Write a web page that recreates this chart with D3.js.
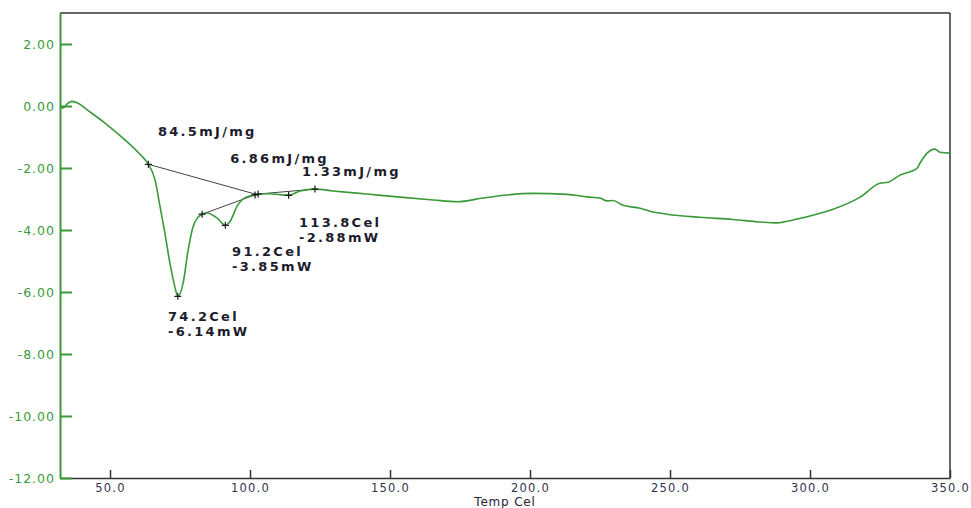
<!DOCTYPE html>
<html lang="en">
<head>
  <meta charset="UTF-8">
  <title>DSC</title>
  <style>
    body { margin: 0; background: #fff; }
    svg { display: block; }
  </style>
</head>
<body>
  <script src="https://cdn.jsdelivr.net/npm/d3@7/dist/d3.min.js"></script>
  <script>
    // data
    let tempC = [32.3, 32.9, 33.6, 35.0, 36.4, 38.6, 42.1, 48.2, 54.3, 60.0, 63.2, 63.7, 66.1, 67.9, 69.6, 71.4, 73.2, 74.2,
                 76.1, 77.9, 79.6, 81.4, 82.9, 84.6, 88.2, 91.2, 92.9, 95.4, 97.5, 100.0, 101.8, 102.9, 107.1, 110.7, 113.8,
                 117.9, 123.2, 129.6, 141.8, 153.6, 165.4, 173.9, 183.2, 191.8, 201.1, 213.2, 220.4, 225.0, 227.5, 229.6,
                 233.2, 239.3, 243.9, 248.9, 260.7, 272.5, 282.1, 288.2, 293.9, 303.6, 308.2, 317.9, 325.0, 327.9, 332.1,
                 338.2, 339.3, 341.8, 344.6, 346.4, 350.0]
    let heatFlow = [0.03, -0.07, -0.04, 0.09, 0.15, 0.09, -0.14, -0.55, -1.01, -1.49, -1.81, -1.88, -2.39, -3.26, -4.10, -5.07, -5.85, -6.14,
                    -5.72, -4.65, -3.91, -3.59, -3.49, -3.45, -3.61, -3.85, -3.72, -3.23, -3.00, -2.90, -2.87, -2.84, -2.83, -2.86, -2.88,
                    -2.74, -2.68, -2.74, -2.84, -2.94, -3.03, -3.09, -2.97, -2.87, -2.82, -2.85, -2.93, -2.97, -3.06, -3.05,
                    -3.20, -3.30, -3.42, -3.49, -3.59, -3.66, -3.74, -3.77, -3.68, -3.46, -3.33, -2.94, -2.49, -2.46, -2.23,
                    -2.01, -1.84, -1.52, -1.39, -1.49, -1.52]

    let markerT = [63.7, 74.2, 82.9, 91.2, 101.8, 102.9, 113.8, 123.2]
    let markerV = [-1.88, -6.14, -3.49, -3.85, -2.87, -2.84, -2.88, -2.68]

    // integration baselines: [startT, startV, endT, endV]
    let baselines = [
      [63.7, -1.88, 102.2, -2.85],
      [82.9, -3.49, 102.0, -2.86],
      [102.9, -2.84, 123.2, -2.68]
    ]

    let labelText = [['84.5mJ/mg'], ['6.86mJ/mg'], ['1.33mJ/mg'],
                     ['113.8Cel', '-2.88mW'], ['91.2Cel', '-3.85mW'], ['74.2Cel', '-6.14mW']]
    let labelT = [67.1, 92.9, 118.6, 117.5, 93.6, 70.7]
    let labelV = [-0.97, -1.85, -2.26, -3.91, -4.85, -6.94]

    let yTicks = [2, 0, -2, -4, -6, -8, -10, -12]
    let xTicks = [50, 100, 150, 200, 250, 300, 350]

    let width = 971;
    let height = 508;
    let svg = d3.select('body')
                .append('svg')
                .attr('width', width)
                .attr('height', height);

    let x = d3.scaleLinear().domain([32.14, 350]).range([60, 950])
    let y = d3.scaleLinear().domain([-12, 3]).range([478, 13])

    let green = '#3a9a3a'
    let dark = '#333'

    // frame top / right
    svg.append('line')
       .attr('x1', 60).attr('x2', 950).attr('y1', 13).attr('y2', 13)
       .attr('stroke', dark).attr('stroke-width', 1.5)
    svg.append('line')
       .attr('x1', 950).attr('x2', 950).attr('y1', 13).attr('y2', 478)
       .attr('stroke', dark).attr('stroke-width', 1.5)

    // x axis
    let xAxis = d3.axisBottom(x)
                  .tickValues(xTicks)
                  .tickFormat(d => d.toFixed(1))
                  .tickSizeInner(-8)
                  .tickSizeOuter(0)
                  .tickPadding(6)
    let gx = svg.append('g')
       .attr('transform', 'translate(0, 478)')
       .call(xAxis)
    gx.select('.domain').attr('stroke', dark).attr('stroke-width', 1.5)
    gx.selectAll('.tick line').attr('stroke', dark).attr('stroke-width', 1.5)
    gx.selectAll('.tick text')
      .attr('fill', '#33334a')
      .style('font-family', 'DejaVu Sans')
      .style('font-size', '11.5px')
      .style('letter-spacing', '1.2px')

    svg.append('text')
       .attr('x', 505)
       .attr('y', 506)
       .attr('text-anchor', 'middle')
       .attr('fill', '#2a2233')
       .style('font-family', 'DejaVu Sans')
       .style('font-size', '12px')
       .style('letter-spacing', '0.8px')
       .text('Temp Cel')

    // y axis, ticks pointing inward
    let yAxis = d3.axisLeft(y)
                  .tickValues(yTicks)
                  .tickFormat(d => d.toFixed(2))
                  .tickSizeInner(-12)
                  .tickSizeOuter(0)
                  .tickPadding(5)
    let gy = svg.append('g')
       .attr('transform', 'translate(60, 0)')
       .call(yAxis)
    gy.select('.domain').attr('stroke', green).attr('stroke-width', 2)
    gy.selectAll('.tick line').attr('stroke', green).attr('stroke-width', 2)
    gy.selectAll('.tick text')
      .attr('fill', green)
      .style('font-family', 'DejaVu Sans')
      .style('font-size', '12.5px')
      .style('letter-spacing', '1px')

    // baselines
    svg.selectAll('.base')
       .data(baselines)
       .enter()
       .append('line')
       .attr('class', 'base')
       .attr('x1', d => x(d[0]))
       .attr('y1', d => y(d[1]))
       .attr('x2', d => x(d[2]))
       .attr('y2', d => y(d[3]))
       .attr('stroke', '#444')
       .attr('stroke-width', 1)

    // curve
    let points = tempC.map((t, i) => [t, heatFlow[i]])
    let line = d3.line()
                 .x(d => x(d[0]))
                 .y(d => y(d[1]))
                 .curve(d3.curveMonotoneX)
    svg.append('path')
       .datum(points)
       .attr('d', line)
       .attr('fill', 'none')
       .attr('stroke', green)
       .attr('stroke-width', 1.6)

    // "+" markers
    svg.selectAll('.mk')
       .data(markerT)
       .enter()
       .append('path')
       .attr('class', 'mk')
       .attr('d', (d, i) => {
         let px = x(d), py = y(markerV[i])
         return 'M' + (px - 3.5) + ',' + py + 'H' + (px + 3.5) + 'M' + px + ',' + (py - 3.5) + 'V' + (py + 3.5)
       })
       .attr('stroke', '#1a1a1a')
       .attr('stroke-width', 1.2)

    // annotations, one text per line
    labelText.forEach((lines, i) => {
      lines.forEach((s, j) => {
        svg.append('text')
           .attr('x', x(labelT[i]))
           .attr('y', y(labelV[i]) + j * 15)
           .attr('fill', '#1c1c2c')
           .style('font-family', 'DejaVu Sans')
           .style('font-weight', 'bold')
           .style('font-size', '13px')
           .style('letter-spacing', '2.3px')
           .text(s)
      })
    })
  </script>
</body>
</html>
